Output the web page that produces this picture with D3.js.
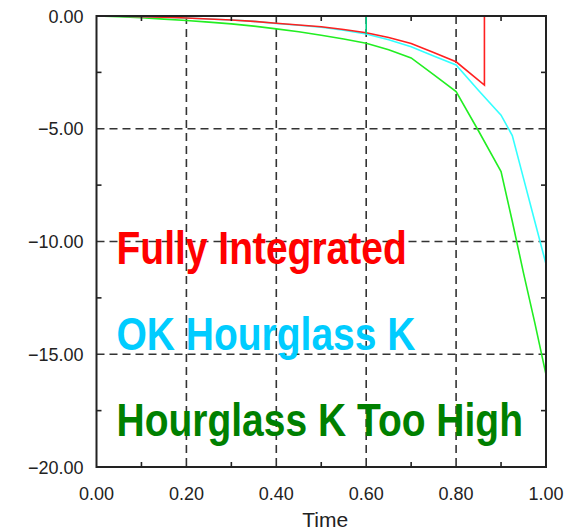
<!DOCTYPE html>
<meta charset="UTF-8">
<style>
    body { margin: 0; background: #fff; }
    .tick-label { font-family: "Liberation Sans", Arial, sans-serif; font-size: 18px; fill: #222; }
    .legend { font-family: "Liberation Sans", Arial, sans-serif; font-weight: bold; font-size: 39px; }
</style>
<body>
<div id="chart"></div>
<script src="https://d3js.org/d3.v7.min.js"></script>
<script>

// data
var time = [0, 0.05, 0.1, 0.15, 0.2, 0.25, 0.3, 0.35, 0.4, 0.45, 0.5,
            0.55, 0.6, 0.65, 0.7, 0.75, 0.8, 0.85, 0.9, 0.925, 0.95, 0.975, 1.0];

var fullyTime = [0, 0.05, 0.1, 0.15, 0.2, 0.25, 0.3, 0.35, 0.4, 0.45, 0.5,
                 0.55, 0.6, 0.65, 0.7, 0.75, 0.8, 0.863, 0.863];
var fullyIntegrated = [0, -0.01, -0.03, -0.05, -0.09, -0.13, -0.18, -0.24, -0.32, -0.4, -0.48,
                       -0.6, -0.74, -0.95, -1.22, -1.62, -2.03, -3.06, 0];

var okHourglass = [0, -0.01, -0.03, -0.05, -0.09, -0.13, -0.18, -0.24, -0.33, -0.41, -0.5,
                   -0.63, -0.8, -1.05, -1.36, -1.77, -2.17, -3.3, -4.4, -5.3, -7.2, -9.1, -11.0];

var kTooHigh = [0, -0.03, -0.08, -0.14, -0.2, -0.27, -0.35, -0.45, -0.57, -0.7, -0.85,
                -1.02, -1.21, -1.5, -1.86, -2.6, -3.35, -5.1, -6.9, -9.1, -11.4, -13.6, -15.9];

// short spike at t = 0.6
var spikeTime = [0.6, 0.6];
var spikeValue = [0, -0.8];

var xTicks = [0, 0.2, 0.4, 0.6, 0.8, 1.0];
var xMinor = [0.1, 0.3, 0.5, 0.7, 0.9];
var yTicks = [0, -5, -10, -15, -20];
var yMinor = [-2.5, -7.5, -12.5, -17.5];

var labels = ["Fully Integrated", "OK Hourglass K", "Hourglass K Too High"];
var labelColors = ["#ff0000", "#00ccff", "#008000"];

// set the dimensions and margins of the graph
var margin = {top: 16, right: 30, bottom: 65, left: 96.5},
    width = 576 - margin.left - margin.right,
    height = 532 - margin.top - margin.bottom;

var x = d3.scaleLinear().domain([0, 1]).range([0, width]);
var y = d3.scaleLinear().domain([-20, 0]).range([height, 0]);

var svg = d3.select("#chart").append("svg")
        .attr("width", 576)
        .attr("height", 532)
    .append("g")
        .attr("transform", "translate(" + margin.left + "," + margin.top + ")");

// dashed grid
svg.selectAll(".vgrid")
    .data(xTicks.slice(1, -1))
  .enter().append("line")
    .attr("x1", function(d) { return x(d); })
    .attr("x2", function(d) { return x(d); })
    .attr("y1", 0)
    .attr("y2", height)
    .attr("stroke", "#333")
    .attr("stroke-width", 1.6)
    .attr("stroke-dasharray", "8,5");

svg.selectAll(".hgrid")
    .data(yTicks.slice(1, -1))
  .enter().append("line")
    .attr("x1", 0)
    .attr("x2", width)
    .attr("y1", function(d) { return y(d); })
    .attr("y2", function(d) { return y(d); })
    .attr("stroke", "#333")
    .attr("stroke-width", 1.6)
    .attr("stroke-dasharray", "8,5");

// legend text (stretched a little, like the original)
svg.selectAll(".legend")
    .data(labels)
  .enter().append("text")
    .attr("class", "legend")
    .attr("fill", function(d, i) { return labelColors[i]; })
    .attr("transform", function(d, i) {
        var base = [264, 350, 436][i] - margin.top;
        return "translate(" + (116.5 - margin.left) + "," + base + ") scale(1,1.2)";
    })
    .text(function(d) { return d; });

// lines
var line = d3.line()
    .x(function(d) { return x(d[0]); })
    .y(function(d) { return y(d[1]); });

function drawSeries(t, v, color) {
    svg.append("path")
        .datum(d3.zip(t, v))
        .attr("fill", "none")
        .attr("stroke", color)
        .attr("stroke-width", 1.6)
        .attr("d", line);
}

drawSeries(time, kTooHigh, "#22ee22");
drawSeries(time, okHourglass, "#33ffff");
drawSeries(fullyTime, fullyIntegrated, "#ff2020");
drawSeries(spikeTime, spikeValue, "#00cc80");

// inward ticks on all four sides
var tickLen = 5;
var ticks = svg.append("g").attr("stroke", "#222").attr("stroke-width", 1.6);
xMinor.forEach(function(d) {
    ticks.append("line").attr("x1", x(d)).attr("x2", x(d)).attr("y1", 0).attr("y2", tickLen);
    ticks.append("line").attr("x1", x(d)).attr("x2", x(d)).attr("y1", height).attr("y2", height - tickLen);
});
yMinor.forEach(function(d) {
    ticks.append("line").attr("x1", 0).attr("x2", tickLen).attr("y1", y(d)).attr("y2", y(d));
    ticks.append("line").attr("x1", width).attr("x2", width - tickLen).attr("y1", y(d)).attr("y2", y(d));
});

// frame
svg.append("rect")
    .attr("x", 0)
    .attr("y", 0)
    .attr("width", width)
    .attr("height", height)
    .attr("fill", "none")
    .attr("stroke", "#222")
    .attr("stroke-width", 2);

// tick labels
svg.selectAll(".xlab")
    .data(xTicks)
  .enter().append("text")
    .attr("class", "tick-label")
    .attr("x", function(d) { return x(d); })
    .attr("y", height + 33)
    .attr("text-anchor", "middle")
    .text(function(d) { return d3.format(".2f")(d); });

svg.selectAll(".ylab")
    .data(yTicks)
  .enter().append("text")
    .attr("class", "tick-label")
    .attr("x", -13)
    .attr("y", function(d) { return y(d) + 6.5; })
    .attr("text-anchor", "end")
    .text(function(d) { return d3.format(".2f")(d).replace("-", "\u2212"); });

// axis title
svg.append("text")
    .attr("class", "tick-label")
    .style("font-size", "21px")
    .attr("x", width / 2 + 4)
    .attr("y", height + 60)
    .attr("text-anchor", "middle")
    .text("Time");

</script>
</body>
